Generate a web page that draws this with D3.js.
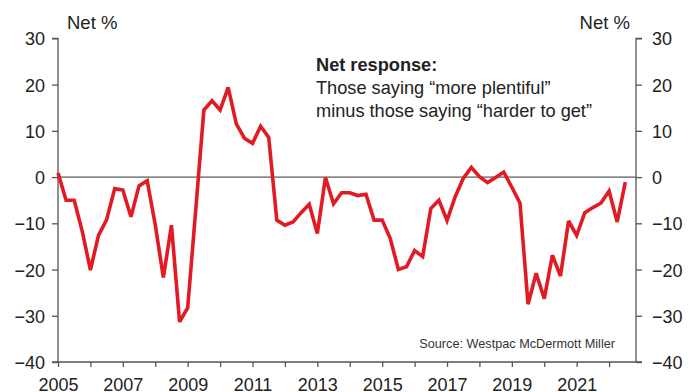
<!DOCTYPE html>
<html>
<head>
<meta charset="utf-8">
<script src="https://cdn.jsdelivr.net/npm/d3@7"></script>
<style>
  html, body { margin: 0; padding: 0; background: #fff; }
  svg { display: block; font-family: Arial, "Liberation Sans", sans-serif; }
</style>
</head>
<body>
<svg id="chart" width="692" height="392"></svg>
<script>
// Quarterly net response, first quarter 2005 onward
const firstYear = 2005;
const netResponse = [
  0.9, -5.0, -5.0, -11.8, -20.1, -12.6, -9.2, -2.5, -2.8, -8.6,
  -1.9, -0.8, -10.3, -21.7, -10.4, -31.3, -28.3, -7.0, 14.5, 16.5,
  14.5, 19.4, 11.5, 8.4, 7.3, 11.0, 8.6, -9.3, -10.4, -9.7,
  -7.7, -5.9, -12.2, -0.1, -5.8, -3.4, -3.4, -4.0, -3.7, -9.3,
  -9.3, -13.3, -20.0, -19.4, -15.9, -17.2, -6.8, -5.0, -9.4, -4.3,
  -0.3, 2.1, 0.1, -1.2, -0.1, 1.1, -2.2, -5.6, -27.5, -20.8,
  -26.3, -16.9, -21.4, -9.5, -12.6, -7.7, -6.6, -5.6, -3.0, -9.7,
  -1.1
];
const yTicks = [-40, -30, -20, -10, 0, 10, 20, 30];
const yearTicks = d3.range(2005, 2023);
const yearLabels = [2005, 2007, 2009, 2011, 2013, 2015, 2017, 2019, 2021];
const axisTitle = "Net %";
const noteTitle = "Net response:";
const noteLines = ["Those saying \u201cmore plentiful\u201d", "minus those saying \u201charder to get\u201d"];
const sourceText = "Source: Westpac McDermott Miller";

const svg = d3.select("#chart");
const plotLeft = 58, plotRight = 636, plotTop = 38.4, plotBottom = 362;

const x = d3.scaleLinear().domain([2005, 2022.83]).range([plotLeft, plotRight]);
const y = d3.scaleLinear().domain([-40, 30]).range([plotBottom, plotTop]);

const points = netResponse.map((v, i) => ({ t: firstYear + i / 4, v }));

const axisColor = "#555";
const textColor = "#222";

// Zero line
svg.append("line")
  .attr("x1", plotLeft).attr("x2", plotRight)
  .attr("y1", y(0)).attr("y2", y(0))
  .attr("stroke", "#333").attr("stroke-width", 1);

// Left axis
const gl = svg.append("g").attr("transform", `translate(${plotLeft},0)`)
  .call(d3.axisLeft(y).tickValues(yTicks).tickSize(6).tickPadding(7).tickFormat(d3.format("d")));
// Right axis
const gr = svg.append("g").attr("transform", `translate(${plotRight},0)`)
  .call(d3.axisRight(y).tickValues(yTicks).tickSize(6).tickPadding(10).tickFormat(d3.format("d")));
// Bottom axis
const gb = svg.append("g").attr("transform", `translate(0,${plotBottom})`)
  .call(d3.axisBottom(x).tickValues(yearTicks).tickSize(5).tickPadding(12)
    .tickFormat(d => yearLabels.includes(d) ? String(d) : ""));

[gl, gr, gb].forEach(g => {
  g.select(".domain").attr("stroke", axisColor).attr("stroke-width", 1.3);
  g.selectAll(".tick line").attr("stroke", axisColor).attr("stroke-width", 1.3);
  g.selectAll(".tick text").attr("fill", textColor).attr("font-size", 18)
    .attr("font-family", "Arial, 'Liberation Sans', sans-serif");
});
gl.select(".domain").attr("d", `M-6,${plotTop}H0V${plotBottom}H-6`);
gr.select(".domain").attr("d", `M6,${plotTop}H0V${plotBottom}H6`);
gb.select(".domain").attr("d", `M${plotLeft},0H${plotRight}`);
gb.selectAll(".tick text").attr("dy", null).attr("y", 29);
gl.selectAll(".tick text").attr("dy", "0.36em");
gr.selectAll(".tick text").attr("dy", "0.36em");

// Series line
const line = d3.line().x(d => x(d.t)).y(d => y(d.v)).curve(d3.curveLinear);
svg.append("path")
  .datum(points)
  .attr("d", line)
  .attr("fill", "none")
  .attr("stroke", "#e01b24")
  .attr("stroke-width", 3.6)
  .attr("stroke-linejoin", "miter")
  .attr("stroke-miterlimit", 3);

// Axis titles
svg.append("text").attr("x", 67).attr("y", 29)
  .attr("font-size", 18.5).attr("fill", textColor).text(axisTitle);
svg.append("text").attr("x", 630).attr("y", 29).attr("text-anchor", "end")
  .attr("font-size", 18.5).attr("fill", textColor).text(axisTitle);

// Annotation
const note = svg.append("text").attr("x", 316).attr("y", 71)
  .attr("font-size", 18.2).attr("fill", textColor);
note.append("tspan").attr("x", 316).attr("font-weight", "bold").text(noteTitle);
noteLines.forEach(s => note.append("tspan").attr("x", 316).attr("dy", 22.8).text(s));

// Source
svg.append("text").attr("x", 615).attr("y", 348).attr("text-anchor", "end")
  .attr("font-size", 12.7).attr("fill", "#333").text(sourceText);
</script>
</body>
</html>
